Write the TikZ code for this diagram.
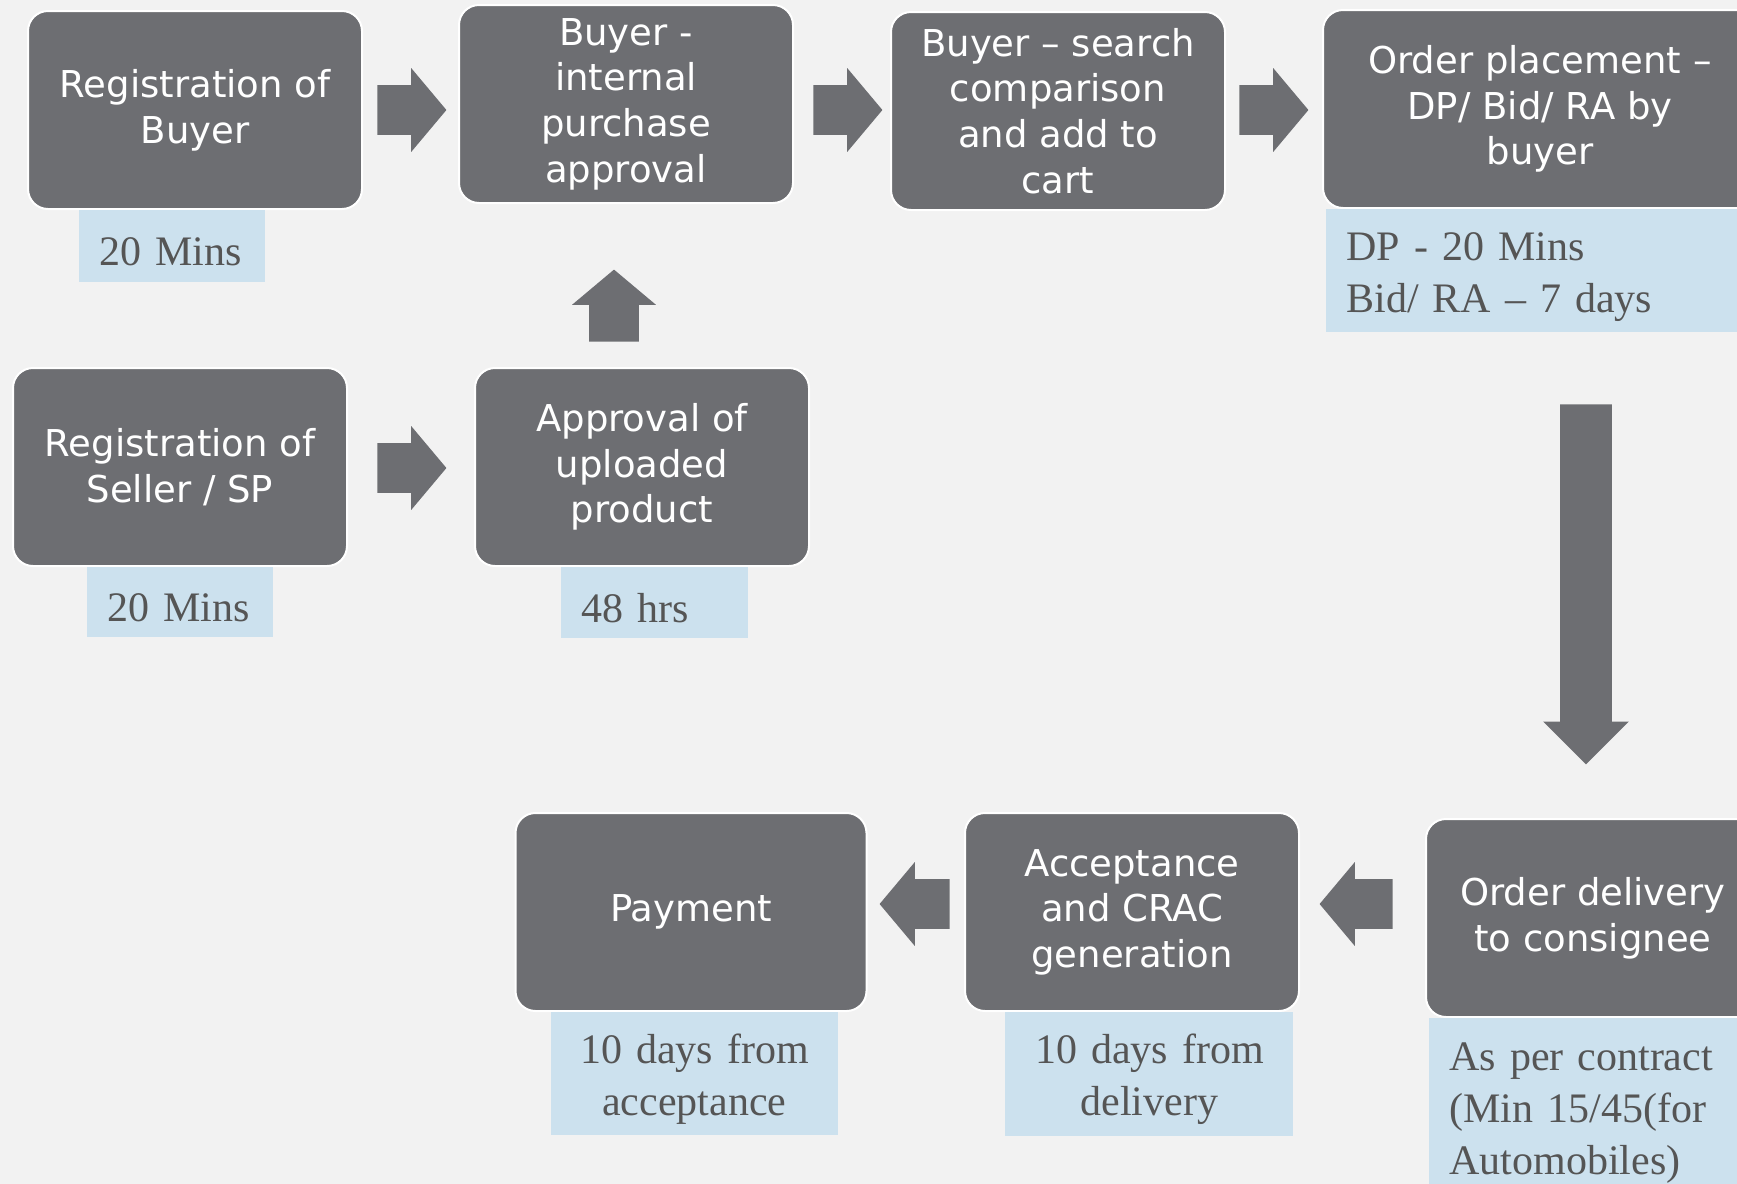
\documentclass[tikz,border=0pt]{standalone}
\usepackage{fontspec}
\setmainfont{Liberation Serif}
\newfontfamily\boxfont{DejaVu Sans}
\usepackage{tikz}
\usetikzlibrary{shapes.arrows,positioning,calc}
\definecolor{boxgray}{HTML}{6D6E72}
\definecolor{pagegray}{HTML}{F2F2F2}
\definecolor{noteblue}{HTML}{CCE1EE}
\definecolor{notetext}{HTML}{555555}

\begin{document}
\begin{tikzpicture}[x=0.5pt,y=-0.5pt,
 stepbox/.style={draw=white, line width=1pt, fill=boxgray, rounded corners=10pt,
  text=white, minimum width=167pt, minimum height=99pt, inner sep=0pt,
  align=center, font=\boxfont\fontsize{18.5}{22.8}\selectfont},
 timebox/.style={fill=noteblue, text=notetext, anchor=north west, inner xsep=10pt,
  inner ysep=0pt, text height=19.7pt, font=\fontsize{21}{26}\selectfont},
 blockarrow/.style={single arrow, fill=boxgray, anchor=tail, inner xsep=0pt, inner ysep=12.25pt,
  minimum height=34.5pt, single arrow head extend=8.5pt, single arrow tip angle=100}]
\fill[pagegray] (0,0) rectangle (1737,1184);
\useasboundingbox (0,0) rectangle (1737,1184);
\clip (0,0) rectangle (1737,1184);

% buyer side
\node[stepbox] (buyreg) at (195,110) {Registration of\\Buyer};
\node[stepbox] (intappr) at (626,104) {Buyer -\\internal\\purchase\\approval};
\node[stepbox] (search) at (1058,111) {Buyer – search\\comparison\\and add to\\cart};
\node[stepbox, minimum width=217pt] (order) at (1540,109) {Order placement –\\DP/ Bid/ RA by\\buyer};

% seller side
\node[stepbox] (sellreg) at (180,467) {Registration of\\Seller / SP};
\node[stepbox] (prodappr) at (642,467) {Approval of\\uploaded\\product};

% delivery and payment
\node[stepbox] (deliver) at (1593,918) {Order delivery\\to consignee};
\node[stepbox] (crac) at (1132,912) {Acceptance\\and CRAC\\generation};
\node[stepbox, minimum width=175.5pt] (pay) at (691,912) {Payment};

% time notes
\node[timebox, text width=73pt, minimum height=36pt, align=left] (t1) at ($(buyreg.south west)+(52,0)$) {20 Mins};
\node[timebox, text width=196pt, minimum height=61.5pt, align=left] (t4) at ($(order.south west)+(4,0)$) {DP - 20 Mins\\Bid/ RA – 7 days};
\node[timebox, text width=73pt, minimum height=35pt, align=left] (t5) at ($(sellreg.south west)+(75,0)$) {20 Mins};
\node[timebox, text width=73.5pt, minimum height=35.5pt, align=left] (t6) at ($(prodappr.south west)+(87,0)$) {48 hrs};
\node[timebox, text width=145pt, minimum height=89pt, align=left] (t7) at ($(deliver.south west)+(4,0)$) {As per contract\\(Min 15/45(for\\Automobiles)};
\node[timebox, text width=124pt, minimum height=62pt, align=center] (t8) at ($(crac.south west)+(41,0)$) {10 days from\\delivery};
\node[timebox, text width=123.5pt, minimum height=61.5pt, align=center] (t9) at ($(pay.south west)+(36,0)$) {10 days from\\acceptance};

% flow arrows
\node[blockarrow] (ar1) at (377,110) {};
\node[blockarrow] (ar2) at (813,110) {};
\node[blockarrow] (ar3) at (1239,110) {};
\node[blockarrow] (ar5) at (377,468) {};
\node[blockarrow, rotate=90, minimum height=36pt] (ar6) at (614,342) {};
\node[blockarrow, rotate=-90, minimum height=180pt, inner ysep=12.75pt, single arrow tip angle=90] (ar4) at (1586,404) {};
\node[blockarrow, rotate=180, minimum height=36.5pt] (ar7) at (1393,904) {};
\node[blockarrow, rotate=180, minimum height=35pt] (ar8) at (950,904) {};
\end{tikzpicture}
\end{document}
